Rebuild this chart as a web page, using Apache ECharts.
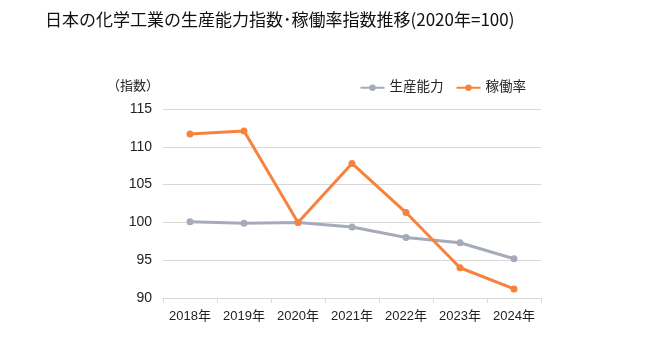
<!DOCTYPE html>
<html><head><meta charset="utf-8">
<script src="https://cdn.jsdelivr.net/npm/echarts@6/dist/echarts.min.js"></script>
<style>html,body{margin:0;padding:0;background:#fff}#c{width:661px;height:358px}</style>
</head><body><div id="c"></div>
<script>
const categories = ['2018年','2019年','2020年','2021年','2022年','2023年','2024年'];
const capacity = [100.1, 99.9, 100.0, 99.4, 98.0, 97.3, 95.2];
const utilization = [111.7, 112.1, 100.0, 107.8, 101.3, 94.0, 91.2];
const yTicks = { min: 90, max: 115, interval: 5 };

const font = '"Liberation Sans", "Noto Sans CJK JP", sans-serif';
const cjk = '"Noto Sans CJK JP", sans-serif';
const chart = echarts.init(document.getElementById('c'));
chart.setOption({
  animation: false,
  title: {
    text: '日本の化学工業の生産能力指数･稼働率指数推移(2020年=100)',
    left: 40, top: 6,
    textStyle: { fontFamily: cjk, fontSize: 17, fontWeight: 'normal', color: '#111' }
  },
  legend: {
    right: 130, top: 76, itemWidth: 24, itemHeight: 8, itemGap: 12,
    textStyle: { fontFamily: font, fontSize: 13.5, color: '#222' },
    data: ['生産能力', '稼働率']
  },
  grid: { left: 163, right: 120, top: 109, bottom: 60 },
  xAxis: {
    type: 'category', data: categories, boundaryGap: true,
    axisLine: { lineStyle: { color: '#d9d9d9' } },
    axisTick: { show: true, length: 5, lineStyle: { color: '#d9d9d9' } },
    axisLabel: { fontFamily: font, fontSize: 13, color: '#222', margin: 12, interval: 0 }
  },
  yAxis: {
    type: 'value', min: yTicks.min, max: yTicks.max, interval: yTicks.interval,
    name: '（指数）', nameLocation: 'end', nameGap: 16,
    nameTextStyle: { fontFamily: font, fontSize: 13, color: '#222', align: 'right', padding: [0, 4, 0, 0] },
    axisLine: { show: false }, axisTick: { show: false },
    splitLine: { lineStyle: { color: '#d9d9d9' } },
    axisLabel: { fontFamily: font, fontSize: 14, color: '#222', margin: 11 }
  },
  series: [
    { name: '生産能力', type: 'line', data: capacity, symbol: 'circle', symbolSize: 7,
      lineStyle: { width: 3, color: '#a5abb9' }, itemStyle: { color: '#a5abb9' } },
    { name: '稼働率', type: 'line', data: utilization, symbol: 'circle', symbolSize: 7,
      lineStyle: { width: 3, color: '#f7823c' }, itemStyle: { color: '#f7823c' } }
  ]
});
</script></body></html>
